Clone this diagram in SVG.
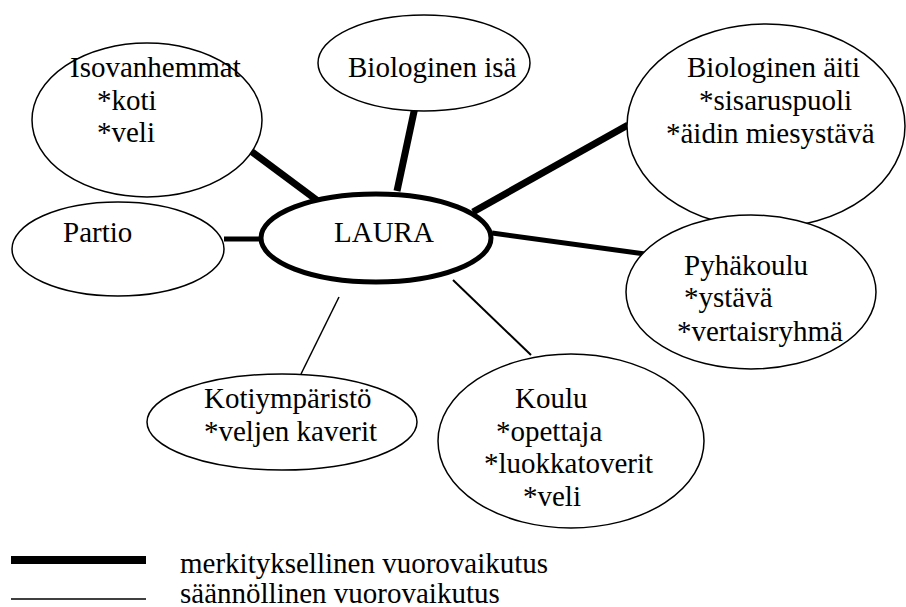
<svg xmlns="http://www.w3.org/2000/svg" width="906" height="607" viewBox="0 0 906 607">
<style>
.t{font-family:'Liberation Serif','DejaVu Serif',serif;font-size:29px;fill:#000}
.n{fill:#fff;stroke:#000;stroke-width:1.5}
.c{stroke:#000;fill:none}
</style>
<rect width="906" height="607" fill="#fff"/>
<g id="connectors">
<line class="c" x1="244" y1="146" x2="318" y2="201" stroke-width="7"/>
<line class="c" x1="415" y1="107" x2="397" y2="191" stroke-width="7"/>
<line class="c" x1="628" y1="125" x2="473" y2="212" stroke-width="7"/>
<line class="c" x1="492" y1="233" x2="645" y2="254" stroke-width="5"/>
<line class="c" x1="224" y1="239" x2="261" y2="239" stroke-width="5"/>
<line class="c" x1="339" y1="297" x2="301" y2="374" stroke-width="1.5"/>
<line class="c" x1="453" y1="280" x2="531" y2="355" stroke-width="2"/>
</g>
<g class="t" font-family="Liberation Serif, DejaVu Serif, serif">
<g id="isovanhemmat">
<ellipse class="n" cx="147" cy="120" rx="115" ry="77"/>
<text x="70" y="77">Isovanhemmat</text>
<text x="97" y="110">*koti</text>
<text x="97" y="142">*veli</text>
</g>
<g id="biologinen-isa">
<ellipse class="n" cx="424" cy="63" rx="106" ry="48"/>
<text x="348" y="77">Biologinen isä</text>
</g>
<g id="biologinen-aiti">
<ellipse class="n" cx="766" cy="126" rx="139" ry="102"/>
<text x="687" y="77">Biologinen äiti</text>
<text x="699" y="110">*sisaruspuoli</text>
<text x="666" y="143">*äidin miesystävä</text>
</g>
<g id="pyhakoulu">
<ellipse class="n" cx="751" cy="292" rx="125" ry="77"/>
<text x="684" y="275">Pyhäkoulu</text>
<text x="684" y="307">*ystävä</text>
<text x="677" y="341">*vertaisryhmä</text>
</g>
<g id="laura">
<ellipse cx="376" cy="238" rx="115" ry="44" fill="#fff" stroke="#000" stroke-width="5"/>
<text x="334" y="242">LAURA</text>
</g>
<g id="partio">
<ellipse class="n" cx="118" cy="249" rx="106" ry="47"/>
<text x="63" y="242">Partio</text>
</g>
<g id="kotiymparisto">
<ellipse class="n" cx="282" cy="422" rx="135" ry="48"/>
<text x="204" y="408">Kotiympäristö</text>
<text x="204" y="441">*veljen kaverit</text>
</g>
<g id="koulu">
<ellipse class="n" cx="571" cy="441" rx="133" ry="87"/>
<text x="515" y="408">Koulu</text>
<text x="496" y="441">*opettaja</text>
<text x="484" y="473">*luokkatoverit</text>
<text x="523" y="506">*veli</text>
</g>
<g id="legend">
<rect x="11" y="556" width="135" height="8" fill="#000"/>
<line x1="11" y1="599" x2="146" y2="599" stroke="#000" stroke-width="1.5"/>
<text x="180" y="573">merkityksellinen vuorovaikutus</text>
<text x="180" y="603">säännöllinen vuorovaikutus</text>
</g>
</g>
</svg>
